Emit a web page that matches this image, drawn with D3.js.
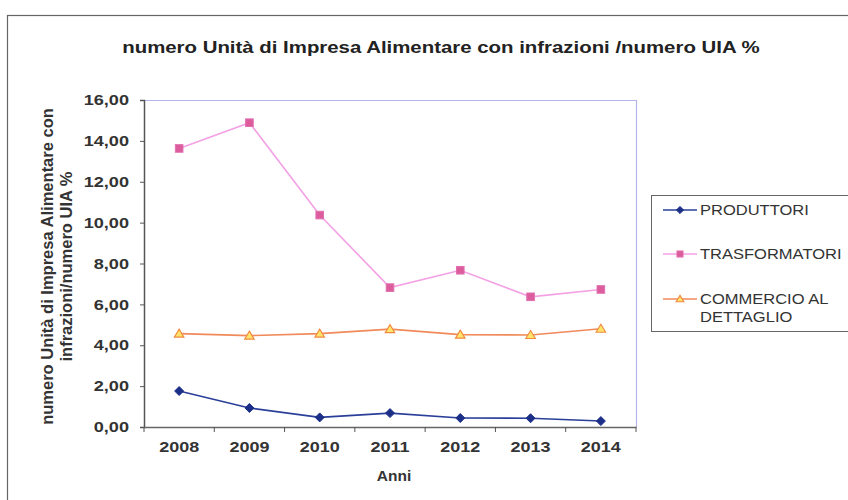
<!DOCTYPE html>
<html>
<head>
<meta charset="utf-8">
<script src="https://cdn.jsdelivr.net/npm/d3@7"></script>
<style>
  body { margin: 0; background: #fff; }
  svg { font-family: "Liberation Sans", Arial, sans-serif; }
  /* the scanned chart is a little wider than tall, so stretch text sideways */
  .wide { transform-box: fill-box; transform-origin: center; transform: scaleX(1.2); }
  .wide-end { transform-box: fill-box; transform-origin: right center; transform: scaleX(1.25); }
  .wide-start { transform-box: fill-box; transform-origin: left center; transform: scaleX(1.18); }
</style>
</head>
<body>
<svg id="chart" width="848" height="500"></svg>
<script>
const years = ['2008', '2009', '2010', '2011', '2012', '2013', '2014'];
const produttori = [1.76, 0.93, 0.47, 0.68, 0.44, 0.43, 0.29];
const trasformatori = [13.63, 14.89, 10.37, 6.82, 7.67, 6.37, 6.73];
const commercio = [4.57, 4.47, 4.57, 4.79, 4.52, 4.50, 4.81];
const yTicks = [0, 2, 4, 6, 8, 10, 12, 14, 16];

const series = [
  { name: ['PRODUTTORI'], values: produttori, line: '#2a3f9a', fill: '#1c2f88', stroke: '#1c2f88', shape: 'diamond' },
  { name: ['TRASFORMATORI'], values: trasformatori, line: '#f4a0e4', fill: '#dc5c9c', stroke: '#e070b0', shape: 'square' },
  { name: ['COMMERCIO AL', 'DETTAGLIO'], values: commercio, line: '#f08a5a', fill: '#ffe36a', stroke: '#f08a40', shape: 'triangle' }
];

const svg = d3.select('#chart');
const plot = { left: 144, top: 100, right: 636, bottom: 427 };

// outer frame
svg.append('rect')
  .attr('x', 7.5).attr('y', 15.5)
  .attr('width', 900).attr('height', 600)
  .attr('fill', '#fff')
  .attr('stroke', '#666').attr('stroke-width', 1.2);

svg.append('text')
  .attr('class', 'wide')
  .attr('x', 441).attr('y', 53)
  .attr('text-anchor', 'middle')
  .attr('font-size', 17).attr('font-weight', 'bold')
  .attr('fill', '#222')
  .text('numero Unità di Impresa Alimentare con infrazioni /numero UIA %');

const x = d3.scaleBand().domain(years).range([plot.left, plot.right]);
const y = d3.scaleLinear().domain([0, 16]).range([plot.bottom, plot.top]);

// plot area border (top & right, lavender)
svg.append('path')
  .attr('d', `M${plot.left},${plot.top + 0.5}H${plot.right + 0.5}V${plot.bottom}`)
  .attr('fill', 'none').attr('stroke', '#b4b4ee').attr('stroke-width', 1.2);

// y axis
const yAxis = svg.append('g')
  .attr('transform', `translate(${plot.left},0)`)
  .call(d3.axisLeft(y).tickValues(yTicks).tickSize(4).tickPadding(11)
    .tickFormat(d => d3.format('.2f')(d).replace('.', ',')));
yAxis.select('.domain').attr('stroke', '#555').attr('stroke-width', 1.5);
yAxis.selectAll('.tick line').attr('stroke', '#555');
yAxis.selectAll('text')
  .attr('class', 'wide-end')
  .attr('font-size', 14.5).attr('font-weight', 'bold').attr('fill', '#333')
  .attr('font-family', '"Liberation Sans", Arial, sans-serif');

// x axis with ticks between categories
const xAxis = svg.append('g')
  .attr('transform', `translate(0,${plot.bottom})`)
  .call(d3.axisBottom(x).tickSize(0).tickPadding(14));
xAxis.select('.domain').attr('stroke', '#666').attr('stroke-width', 1.5);
xAxis.selectAll('text')
  .attr('class', 'wide')
  .attr('font-size', 15).attr('font-weight', 'bold').attr('fill', '#333')
  .attr('font-family', '"Liberation Sans", Arial, sans-serif');
xAxis.selectAll('.sep')
  .data(years.concat(['end']))
  .enter().append('line')
  .attr('x1', (d, i) => plot.left + i * x.step())
  .attr('x2', (d, i) => plot.left + i * x.step())
  .attr('y1', 0).attr('y2', 5)
  .attr('stroke', '#555');

svg.append('text')
  .attr('x', 394).attr('y', 481)
  .attr('text-anchor', 'middle')
  .attr('font-size', 15.5).attr('font-weight', 'bold').attr('fill', '#333')
  .text('Anni');

// y axis title
const yTitle = svg.append('text')
  .attr('transform', `translate(53,${(plot.top + plot.bottom) / 2 + 3}) rotate(-90)`)
  .attr('text-anchor', 'middle')
  .attr('font-size', 16.5).attr('font-weight', 'bold').attr('fill', '#333');
yTitle.append('tspan').attr('x', 0).attr('y', 0).text('numero Unità di Impresa Alimentare con');
yTitle.append('tspan').attr('x', 0).attr('y', 19).text('infrazioni/numero UIA %');

const line = d3.line()
  .x((d, i) => x(years[i]) + x.bandwidth() / 2)
  .y(d => y(d));

function marker (g, s, cx, cy, scale) {
  const k = scale || 1;
  if (s.shape === 'diamond') {
    g.append('path')
      .attr('d', `M${cx},${cy - 4.5 * k}L${cx + 4.5 * k},${cy}L${cx},${cy + 4.5 * k}L${cx - 4.5 * k},${cy}Z`)
      .attr('fill', s.fill).attr('stroke', s.stroke);
  } else if (s.shape === 'square') {
    g.append('rect')
      .attr('x', cx - 3.8 * k).attr('y', cy - 3.8 * k)
      .attr('width', 7.6 * k).attr('height', 7.6 * k)
      .attr('fill', s.fill).attr('stroke', s.stroke);
  } else {
    g.append('path')
      .attr('d', `M${cx},${cy - 4.5 * k}L${cx + 4.8 * k},${cy + 3.5 * k}L${cx - 4.8 * k},${cy + 3.5 * k}Z`)
      .attr('fill', s.fill).attr('stroke', s.stroke).attr('stroke-width', 1.1);
  }
}

series.forEach(s => {
  const g = svg.append('g');
  g.append('path')
    .attr('d', line(s.values))
    .attr('fill', 'none').attr('stroke', s.line).attr('stroke-width', 1.6);
  s.values.forEach((v, i) => marker(g, s, x(years[i]) + x.bandwidth() / 2, y(v)));
});

// legend
const legend = svg.append('g');
legend.append('rect')
  .attr('x', 651.5).attr('y', 195.5)
  .attr('width', 300).attr('height', 136)
  .attr('fill', '#fff').attr('stroke', '#666');
const legendY = [210, 254, 299];
series.forEach((s, i) => {
  const ly = legendY[i];
  legend.append('line')
    .attr('x1', 663).attr('x2', 697).attr('y1', ly).attr('y2', ly)
    .attr('stroke', s.line).attr('stroke-width', 1.6);
  marker(legend, s, 680, ly, 0.8);
  s.name.forEach((t, j) => {
    legend.append('text')
      .attr('class', 'wide-start')
      .attr('x', 700).attr('y', ly + 5 + j * 18)
      .attr('font-size', 14).attr('fill', '#333')
      .text(t);
  });
});
</script>
</body>
</html>
